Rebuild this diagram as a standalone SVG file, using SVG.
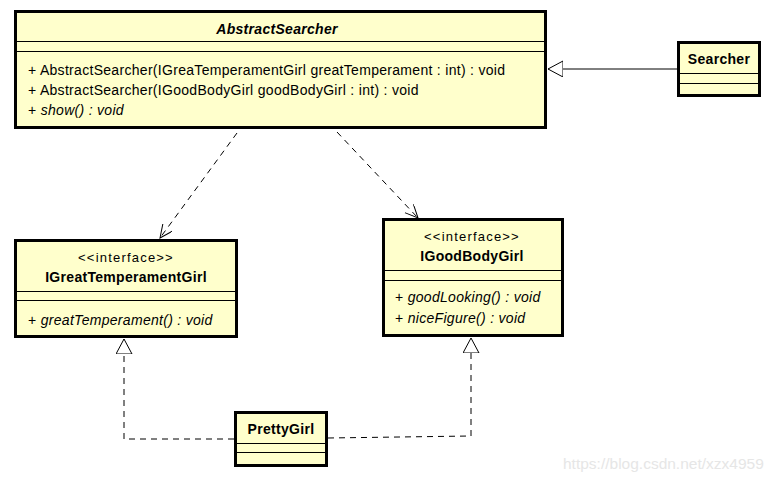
<svg xmlns="http://www.w3.org/2000/svg" width="777" height="480" viewBox="0 0 777 480">
<style>
.box{fill:#FFFFCC;stroke:#000;stroke-width:3}
.sep{stroke:#000;stroke-width:1}
text{font-family:"Liberation Sans",Arial,sans-serif;font-size:14px;letter-spacing:0.3px;fill:#000}
.t{font-weight:bold;text-anchor:middle}
.c{text-anchor:middle;font-size:13px;letter-spacing:1.2px}
.i{font-style:italic}
.dash{fill:none;stroke:#000;stroke-width:1;stroke-dasharray:6,5}
.solid{fill:none;stroke:#000;stroke-width:1}
.wm{font-size:15.5px;letter-spacing:0px;fill:#e6e6e6}
</style>
<defs>
<marker id="tri" markerWidth="20" markerHeight="20" refX="15" refY="8" orient="auto" markerUnits="userSpaceOnUse">
<path d="M0,0 L15,8 L0,16 Z" fill="#fff" stroke="#000" stroke-width="1"/>
</marker>
<marker id="open" markerWidth="20" markerHeight="20" refX="13" refY="6" orient="auto" markerUnits="userSpaceOnUse">
<path d="M0,0 L13,6 L0,12" fill="none" stroke="#000" stroke-width="1"/>
</marker>
</defs>
<g id="connectors">
<path class="solid" d="M677,69 L548,69" marker-end="url(#tri)"/>
<path class="dash" d="M237,133 L160,238" marker-end="url(#open)"/>
<path class="dash" d="M337,132 L418,218" marker-end="url(#open)"/>
<path class="dash" d="M234,439 L124,439 L124,339" marker-end="url(#tri)"/>
<path class="dash" d="M328,438 L471,436 L471,338" marker-end="url(#tri)"/>
</g>
<g id="AbstractSearcher">
<rect class="box" x="15.5" y="11.5" width="530" height="116"/>
<line class="sep" x1="17" y1="41.5" x2="544" y2="41.5"/>
<line class="sep" x1="17" y1="51.5" x2="544" y2="51.5"/>
<text class="t i" x="277" y="34">AbstractSearcher</text>
<text x="28" y="75">+ AbstractSearcher(IGreaTemperamentGirl greatTemperament : int) : void</text>
<text x="28" y="95">+ AbstractSearcher(IGoodBodyGirl goodBodyGirl : int) : void</text>
<text x="28" y="115">+ <tspan class="i">show() : void</tspan></text>
</g>
<g id="Searcher">
<rect class="box" x="678.5" y="42.5" width="81" height="53"/>
<line class="sep" x1="680" y1="73.5" x2="758" y2="73.5"/>
<line class="sep" x1="680" y1="83.5" x2="758" y2="83.5"/>
<text class="t" x="719" y="64">Searcher</text>
</g>
<g id="IGreatTemperamentGirl">
<rect class="box" x="15.5" y="240.5" width="221" height="96"/>
<line class="sep" x1="17" y1="291.5" x2="235" y2="291.5"/>
<line class="sep" x1="17" y1="300.5" x2="235" y2="300.5"/>
<text class="c" x="126" y="262">&lt;&lt;interface&gt;&gt;</text>
<text class="t" x="126" y="282">IGreatTemperamentGirl</text>
<text x="28" y="325">+ <tspan class="i">greatTemperament() : void</tspan></text>
</g>
<g id="IGoodBodyGirl">
<rect class="box" x="383.5" y="219.5" width="179" height="116"/>
<line class="sep" x1="385" y1="270.5" x2="561" y2="270.5"/>
<line class="sep" x1="385" y1="280.5" x2="561" y2="280.5"/>
<text class="c" x="472" y="241">&lt;&lt;interface&gt;&gt;</text>
<text class="t" x="472" y="261">IGoodBodyGirl</text>
<text x="395" y="302">+ <tspan class="i">goodLooking() : void</tspan></text>
<text x="395" y="323">+ <tspan class="i">niceFigure() : void</tspan></text>
</g>
<g id="PrettyGirl">
<rect class="box" x="235.5" y="412.5" width="91" height="53"/>
<line class="sep" x1="237" y1="443.5" x2="325" y2="443.5"/>
<line class="sep" x1="237" y1="452.5" x2="325" y2="452.5"/>
<text class="t" x="281" y="434">PrettyGirl</text>
</g>
<text class="wm" x="563" y="469">https://blog.csdn.net/xzx4959</text>
</svg>
